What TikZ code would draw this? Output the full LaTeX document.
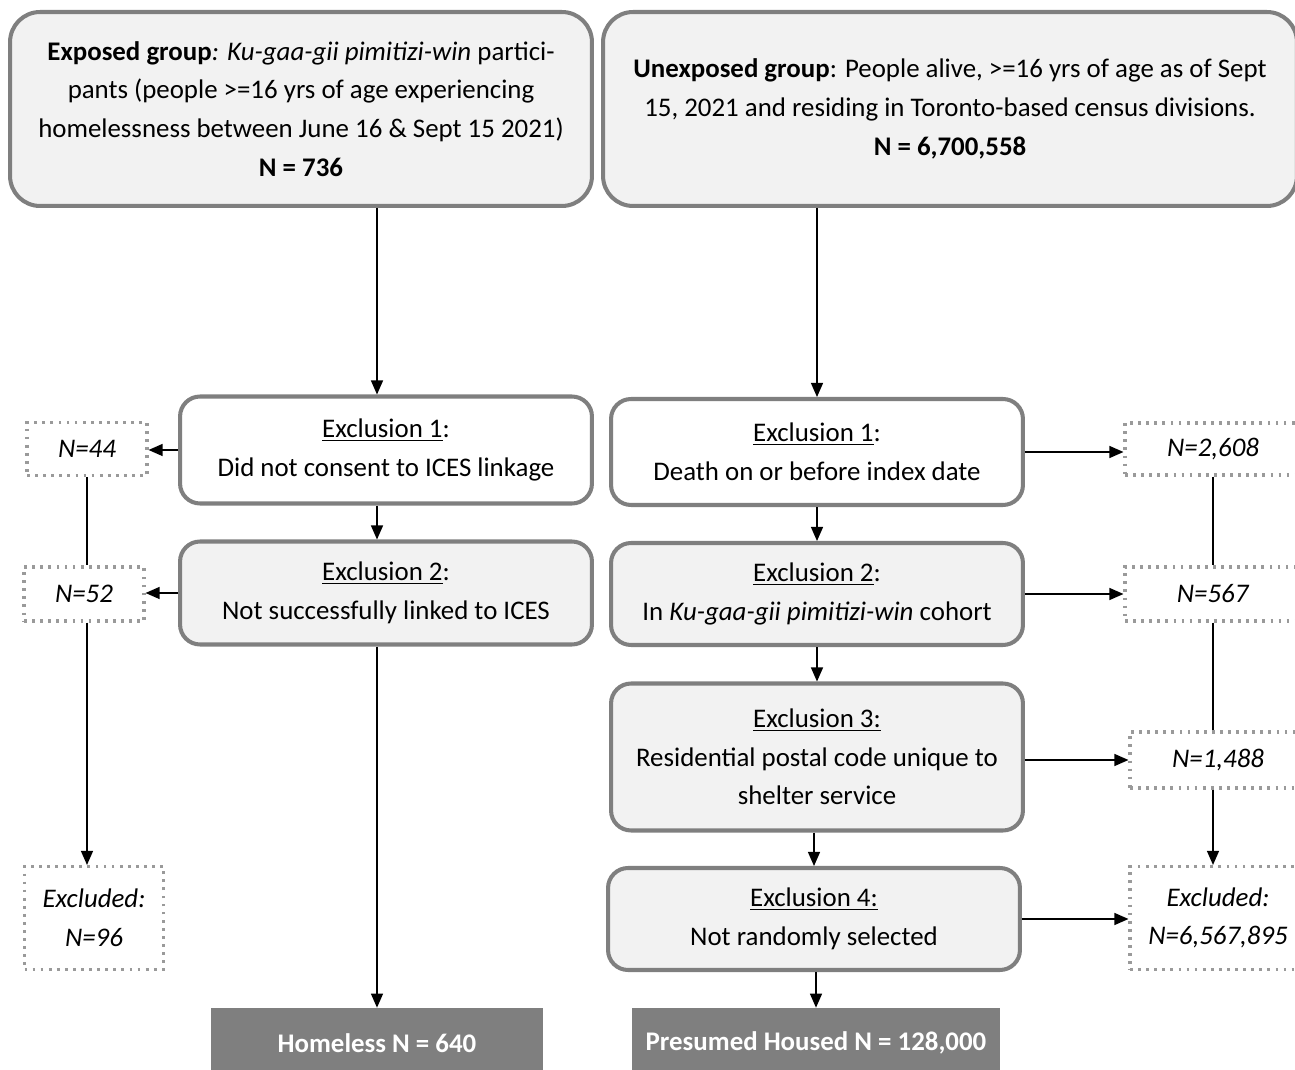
\documentclass[tikz,border=0pt]{standalone}
\usepackage{fontspec}
\setmainfont{Carlito}
\usetikzlibrary{arrows.meta}
\definecolor{boxgray}{HTML}{F2F2F2}
\definecolor{linegray}{HTML}{7F7F7F}
\definecolor{dotgray}{HTML}{9A9A9A}
\begin{document}
\begin{tikzpicture}[x=0.02cm, y=-0.02cm,
    every node/.style={font=\fontsize{15.3}{22}\selectfont, align=center, inner sep=0pt},
    groupbox/.style={draw=linegray, line width=2.3pt, fill=boxgray, rounded corners=0.6cm, minimum height=3.88cm},
    exclbox/.style={draw=linegray, line width=2.3pt, fill=boxgray, rounded corners=0.4cm, minimum width=8.24cm},
    countbox/.style={draw=dotgray, line width=1.8pt, dash pattern=on 1.6pt off 3pt, minimum width=#1},
    countbox/.default=2.4cm,
    finalbox/.style={fill=linegray, text=white, font=\fontsize{15.3}{22}\selectfont\bfseries, minimum height=1.4cm},
    flow/.style={-{Triangle[length=0.28cm, width=0.24cm]}, line width=0.7pt},
    link/.style={line width=0.7pt}]
    \useasboundingbox (0,0) rectangle (1295,1070);
    \node[groupbox, minimum width=11.64cm] (exposed) at (301,109) {\textbf{Exposed group}\textit{: Ku-gaa-gii pimitizi-win} partici-\\pants (people >=16 yrs of age experiencing\\homelessness between June 16 \& Sept 15 2021)\\\textbf{N = 736}};
    \node[groupbox, minimum width=13.88cm] (unexposed) at (950,109) {\textbf{Unexposed group}: People alive, >=16 yrs of age as of Sept\\15, 2021 and residing in Toronto-based census divisions.\\\textbf{N = 6,700,558}};
    \node[exclbox, fill=white, minimum height=2.14cm] (exclA1) at (386,450) {\underline{Exclusion 1}:\\Did not consent to ICES linkage};
    \node[exclbox, minimum height=2.06cm] (exclA2) at (386,593) {\underline{Exclusion 2}:\\Not successfully linked to ICES};
    \node[exclbox, fill=white, minimum height=2.12cm] (exclB1) at (817,452) {\underline{Exclusion 1}:\\Death on or before index date};
    \node[exclbox, minimum height=2.04cm] (exclB2) at (817,594) {\underline{Exclusion 2}:\\In \textit{Ku-gaa-gii pimitizi-win} cohort};
    \node[exclbox, minimum height=2.94cm] (exclB3) at (817,757) {\underline{Exclusion 3:}\\Residential postal code unique to\\shelter service};
    \node[exclbox, minimum height=2.04cm] (exclB4) at (814,919) {\underline{Exclusion 4:}\\Not randomly selected};
    \node[finalbox, minimum width=6.64cm] (homeless) at (377,1043) {Homeless N = 640};
    \node[finalbox, minimum width=7.38cm] (housed) at (816,1043) {Presumed Housed N = 128,000};
    \node[countbox, minimum height=1.06cm] (nA1) at (87,449) {\textit{N=44}};
    \node[countbox, minimum height=1.08cm] (nA2) at (84,594) {\textit{N=52}};
    \node[countbox=2.78cm, minimum height=2.06cm] (exclA) at (94,918) {\textit{Excluded:}\\\textit{N=96}};
    \node[countbox=3.52cm, minimum height=1.04cm] (nB1) at (1213,449) {\textit{N=2,608}};
    \node[countbox=3.52cm, minimum height=1.08cm] (nB2) at (1213,594) {\textit{N=567}};
    \node[countbox=3.52cm, minimum height=1.12cm] (nB3) at (1218,760) {\textit{N=1,488}};
    \node[countbox=3.52cm, minimum height=2.06cm] (exclB) at (1218,918) {\textit{Excluded:}\\\textit{N=6,567,895}};
    \draw[flow] (exposed.south -| homeless.north) -- (homeless.north |- exclA1.north);
    \draw[flow] (exclA1.south -| homeless.north) -- (homeless.north |- exclA2.north);
    \draw[flow] (exclA2.south -| homeless.north) -- (homeless.north);
    \draw[flow] (exclA1.west) -- (exclA1.west -| nA1.east);
    \draw[flow] (exclA2.west) -- (exclA2.west -| nA2.east);
    \draw[link] (nA1.south) -- (nA1.south |- nA2.north);
    \draw[flow] (nA1.south |- nA2.south) -- (nA1.south |- exclA.north);
    \draw[flow] (unexposed.south -| exclB1.north) -- (exclB1.north);
    \draw[flow] (exclB1) -- (exclB2);
    \draw[flow] (exclB2) -- (exclB3);
    \draw[flow] (exclB3.south -| exclB4.north) -- (exclB4.north);
    \draw[flow] (exclB4.south -| housed.north) -- (housed.north);
    \draw[flow] (exclB1.east) -- (exclB1.east -| nB1.west);
    \draw[flow] (exclB2.east) -- (exclB2.east -| nB2.west);
    \draw[flow] (exclB3.east |- nB3) -- (nB3.west);
    \draw[flow] (exclB4.east) -- (exclB4.east -| exclB.west);
    \draw[link] (nB1.south) -- (nB1.south |- nB2.north);
    \draw[link] (nB2.south) -- (nB2.south |- nB3.north);
    \draw[flow] (nB2.south |- nB3.south) -- (nB2.south |- exclB.north);
\end{tikzpicture}
\end{document}
